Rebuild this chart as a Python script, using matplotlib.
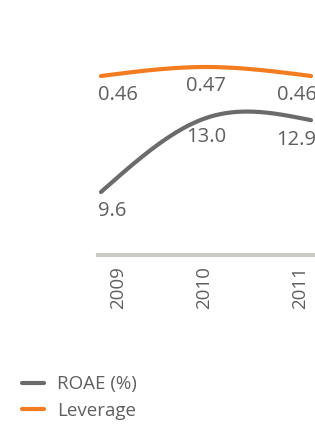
import matplotlib.pyplot as plt
import numpy as np

years = [2009, 2010, 2011]
roae = [9.6, 13.0, 12.9]
leverage = [0.46, 0.47, 0.46]
roae_labels = ["9.6", "13.0", "12.9"]
leverage_labels = ["0.46", "0.47", "0.46"]

GREY = "#6b6b6d"
ORANGE = "#f47c20"
TEXT = "#5f5f61"


def natural_spline(x, y, n=200):
    # natural cubic spline through the points, to draw a smooth line
    x = np.asarray(x, float)
    y = np.asarray(y, float)
    k = len(x)
    h = np.diff(x)
    A = np.zeros((k, k))
    b = np.zeros(k)
    A[0, 0] = A[-1, -1] = 1
    for i in range(1, k - 1):
        A[i, i - 1] = h[i - 1]
        A[i, i] = 2 * (h[i - 1] + h[i])
        A[i, i + 1] = h[i]
        b[i] = 6 * ((y[i + 1] - y[i]) / h[i] - (y[i] - y[i - 1]) / h[i - 1])
    M = np.linalg.solve(A, b)
    xs = np.linspace(x[0], x[-1], n)
    idx = np.clip(np.searchsorted(x, xs) - 1, 0, k - 2)
    x0, x1 = x[idx], x[idx + 1]
    hh = x1 - x0
    t0, t1 = x1 - xs, xs - x0
    ys = (M[idx] * t0 ** 3 + M[idx + 1] * t1 ** 3) / (6 * hh) \
        + (y[idx] / hh - M[idx] * hh / 6) * t0 \
        + (y[idx + 1] / hh - M[idx + 1] * hh / 6) * t1
    return xs, ys


plt.rcParams["font.family"] = ["Open Sans", "DejaVu Sans"]

fig = plt.figure(figsize=(3.15, 4.25), dpi=100)
ax = fig.add_axes([98 / 315, 0.4, 215 / 315, 215 / 425])
ax2 = ax.twinx()

ax.set_xlim(2009 - 3 / 105, 2011 + 2 / 105)
ax.set_ylim(6.705, 16.584)
ax2.set_ylim(0.2611, 0.5)

xs, ys = natural_spline(years, roae)
ax.plot(xs, ys, color=GREY, lw=3, solid_capstyle="round", label="ROAE (%)")
xs, ys = natural_spline(years, leverage)
ax2.plot(xs, ys, color=ORANGE, lw=3, solid_capstyle="round", label="Leverage")

aligns = ["left", "center", "right"]
shifts = [-2, 0, 4]
for yr, v, lab, ha, dx in zip(years, roae, roae_labels, aligns, shifts):
    ax.annotate(lab, (yr, v), xytext=(dx, -14), textcoords="offset points",
                ha=ha, va="center", fontsize=14.5, color=TEXT)
for yr, v, lab, ha, dx in zip(years, leverage, leverage_labels, aligns, shifts):
    ax2.annotate(lab, (yr, v), xytext=(dx, -14), textcoords="offset points",
                 ha=ha, va="center", fontsize=14.5, color=TEXT)

for a in (ax, ax2):
    for s in a.spines.values():
        s.set_visible(False)
    a.set_yticks([])
ax.set_xticks([])
ax.axhline(ax.get_ylim()[0], color="#cbcbc4", lw=3, clip_on=False)

year_shift = [12, -1, -8]
for yr, dx in zip(years, year_shift):
    ax.annotate(str(yr), (yr, 0), xycoords=("data", "axes fraction"),
                xytext=(dx, -8), textcoords="offset points",
                rotation=90, ha="center", va="top", fontsize=13.5, color=TEXT)

h1, l1 = ax.get_legend_handles_labels()
h2, l2 = ax2.get_legend_handles_labels()
fig.legend(h1 + h2, l1 + l2, loc="upper left", bbox_to_anchor=(0.045, 0.135),
           frameon=False, fontsize=13.5, labelcolor=TEXT, handlelength=1.2,
           handletextpad=0.7, labelspacing=0.45, borderaxespad=0)

fig.savefig("out.png", dpi=100)
